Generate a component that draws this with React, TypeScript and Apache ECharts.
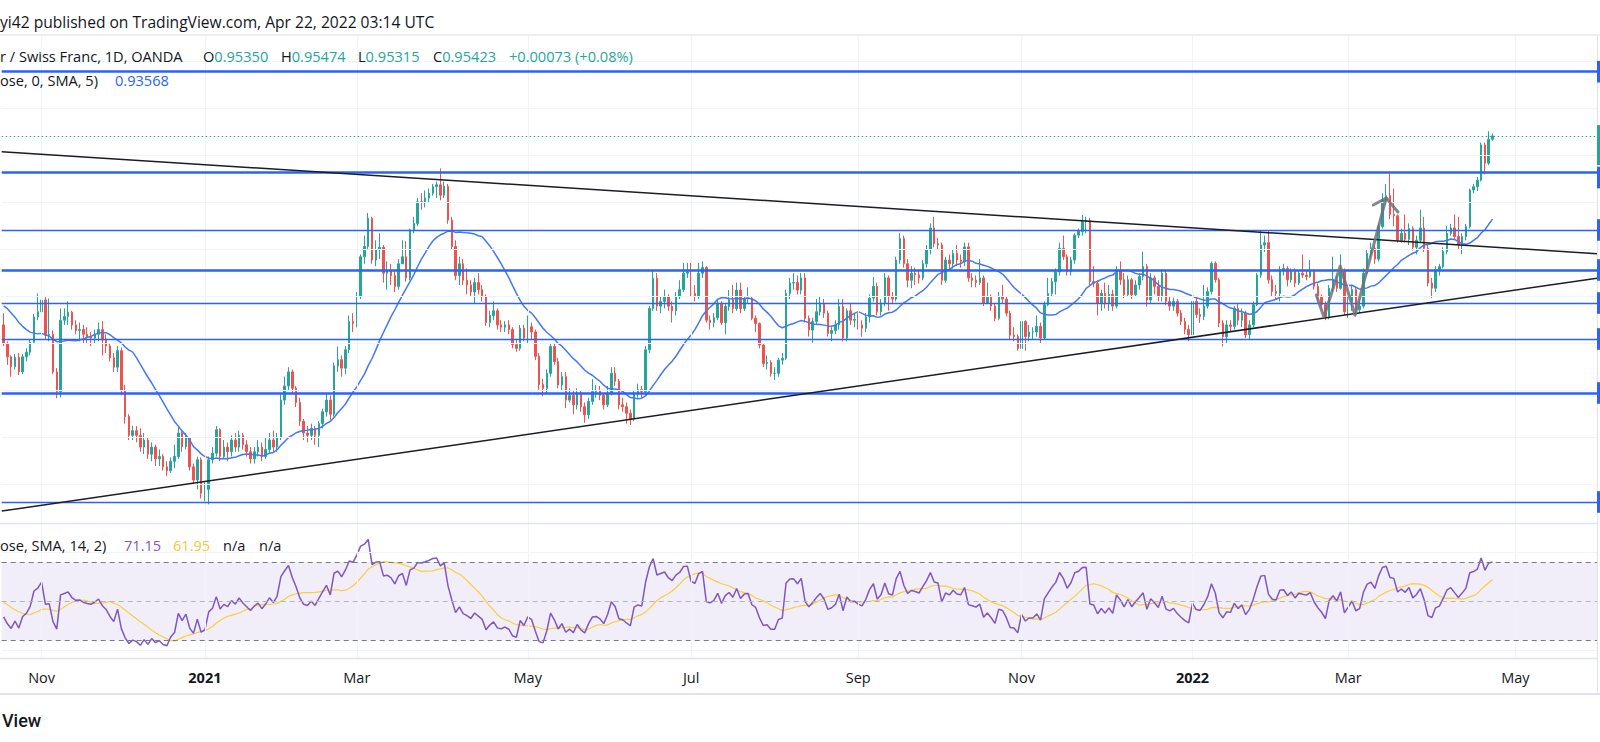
import React, { useEffect, useRef } from "react";
import * as echarts from "echarts";

// ---- DATA (price x 10000) : [close, high, low] per daily bar; open = previous close ----
const firstOpen = 9140;
const oct20 = [[9101,9165,9095],[9072,9105,9055],[9051,9075,9030],[9071,9078,9045],[9040,9080,9033],[9072,9078,9035],[9082,9090,9062],[9103,9110,9075],[9157,9163,9100],[9168,9207,9150]];
const nov20 = [[9193,9207,9160],[9118,9200,9110],[9120,9196,9105],[9040,9128,9035],[8998,9048,8984],[9150,9175,8986],[9158,9175,9140],[9167,9190,9140],[9140,9170,9130],[9128,9150,9120],[9130,9145,9105],[9120,9140,9100],[9115,9135,9100],[9112,9125,9095],[9120,9130,9100],[9130,9145,9105],[9108,9148,9075],[9095,9120,9080],[9070,9100,9062],[9050,9080,9040],[9085,9095,9040]];
const dec20 = [[9000,9092,8990],[8945,9012,8930],[8905,8950,8895],[8915,8925,8895],[8905,8925,8890],[8880,8920,8870],[8895,8910,8865],[8865,8900,8855],[8880,8890,8850],[8855,8885,8840],[8860,8875,8840],[8838,8865,8830],[8830,8850,8818],[8850,8858,8825],[8860,8885,8835],[8910,8925,8855],[8881,8915,8870],[8900,8910,8875],[8838,8890,8830],[8810,8845,8800],[8853,8860,8790],[8782,8858,8771]];
const jan21 = [[8790,8805,8765],[8853,8860,8758],[8867,8880,8845],[8917,8925,8860],[8860,8920,8850],[8880,8895,8855],[8870,8890,8850],[8895,8905,8860],[8880,8910,8870],[8905,8915,8870],[8885,8910,8875],[8870,8895,8860],[8855,8880,8845],[8870,8880,8845],[8880,8895,8860],[8860,8890,8850],[8875,8900,8855],[8895,8910,8865],[8880,8915,8870],[8900,8910,8870]];
const feb21 = [[8980,8992,8895],[9010,9030,8970],[9040,9050,9000],[9005,9045,8995],[8975,9010,8965],[8935,8985,8925],[8910,8940,8895],[8905,8925,8890],[8920,8930,8895],[8905,8925,8885],[8930,8935,8880],[8955,8962,8920],[8980,8995,8945],[8950,8990,8938],[9053,9060,8945],[9066,9094,9040],[9048,9075,9030],[9087,9095,9035],[9147,9160,9080],[9143,9165,9125]];
const mar21 = [[9200,9210,9135],[9285,9290,9195],[9307,9330,9270],[9367,9378,9300],[9278,9370,9270],[9300,9320,9265],[9305,9335,9280],[9250,9310,9230],[9255,9275,9215],[9245,9270,9225],[9222,9255,9210],[9270,9280,9215],[9285,9320,9270],[9240,9318,9232],[9342,9345,9235],[9356,9370,9335],[9402,9410,9350],[9400,9420,9385],[9410,9426,9390],[9420,9430,9400],[9434,9440,9415],[9438,9445,9410],[9416,9473,9405]];
const apr21 = [[9435,9445,9410],[9363,9440,9355],[9307,9370,9300],[9245,9320,9235],[9270,9285,9225],[9235,9280,9225],[9225,9260,9205],[9210,9235,9200],[9230,9240,9185],[9215,9250,9205],[9200,9225,9190],[9145,9205,9138],[9160,9170,9135],[9170,9190,9150],[9140,9175,9130],[9135,9150,9125],[9140,9148,9125],[9130,9150,9120],[9098,9135,9090],[9090,9110,9083],[9133,9140,9085],[9112,9140,9105]];
const may21 = [[9136,9160,9100],[9125,9145,9110],[9073,9130,9065],[9013,9080,9002],[9005,9025,8988],[9037,9045,8995],[9094,9100,9030],[9062,9100,9055],[9012,9070,9005],[9030,9040,9000],[8980,9040,8963],[8990,9005,8975],[8970,9000,8950],[8995,9005,8960],[8966,9000,8955],[8949,8975,8932],[8977,8985,8940],[8998,9025,8970],[9000,9012,8985],[8990,9010,8980],[8970,8995,8960]];
const jun21 = [[8995,9010,8965],[9037,9050,8990],[9020,9050,9010],[8970,9025,8960],[8966,8985,8955],[8952,8975,8930],[8940,8960,8927],[8995,9000,8935],[9002,9015,8985],[8998,9010,8985],[9087,9095,8990],[9175,9180,9080],[9239,9255,9170],[9180,9250,9170],[9190,9200,9165],[9200,9215,9175],[9180,9205,9170],[9170,9190,9145],[9200,9210,9160],[9215,9235,9195],[9250,9272,9210],[9253,9272,9240]];
const jul21 = [[9207,9272,9200],[9200,9225,9190],[9250,9272,9195],[9262,9275,9240],[9150,9265,9145],[9145,9160,9130],[9155,9165,9135],[9186,9195,9150],[9145,9190,9140],[9179,9185,9120],[9193,9214,9170],[9175,9225,9165],[9214,9230,9170],[9175,9230,9165],[9195,9200,9170],[9197,9220,9185],[9154,9200,9150],[9143,9160,9125],[9097,9145,9090],[9058,9100,9050],[9060,9075,9045],[9037,9065,9030]];
const aug21 = [[9037,9050,9023],[9065,9070,9030],[9069,9080,9055],[9207,9215,9065],[9229,9240,9195],[9230,9250,9215],[9214,9245,9205],[9240,9250,9205],[9154,9250,9145],[9129,9160,9115],[9147,9155,9102],[9168,9195,9140],[9186,9200,9160],[9165,9195,9155],[9122,9170,9115],[9128,9135,9105],[9140,9150,9120],[9179,9195,9130],[9112,9195,9105],[9170,9175,9105],[9150,9185,9140],[9152,9165,9135]];
const sep21 = [[9140,9165,9130],[9133,9150,9115],[9157,9165,9125],[9197,9205,9145],[9222,9242,9190],[9168,9230,9160],[9186,9195,9160],[9240,9250,9180],[9200,9245,9170],[9195,9210,9185],[9278,9285,9190],[9324,9335,9270],[9270,9330,9262],[9235,9280,9220],[9250,9265,9218],[9246,9262,9225],[9240,9255,9228],[9270,9278,9235],[9300,9310,9262],[9346,9356,9290],[9313,9370,9305],[9310,9325,9300]];
const oct21 = [[9235,9315,9225],[9278,9285,9230],[9270,9290,9255],[9292,9300,9260],[9278,9310,9265],[9275,9290,9262],[9306,9315,9265],[9240,9315,9232],[9235,9250,9220],[9230,9245,9220],[9240,9280,9225],[9186,9245,9180],[9200,9230,9185],[9180,9205,9170],[9154,9185,9148],[9200,9210,9150],[9195,9225,9185],[9165,9200,9158],[9118,9170,9110],[9115,9135,9105],[9090,9120,9085]];
const nov21 = [[9147,9160,9095],[9115,9150,9085],[9125,9140,9105],[9125,9135,9110],[9137,9160,9115],[9112,9145,9100],[9183,9190,9110],[9207,9240,9180],[9232,9240,9200],[9253,9260,9205],[9303,9315,9245],[9285,9330,9278],[9253,9290,9245],[9278,9285,9245],[9331,9335,9270],[9339,9345,9325],[9360,9374,9330],[9362,9370,9335],[9232,9368,9225],[9228,9265,9220],[9186,9235,9160],[9207,9215,9170]];
const dec21 = [[9185,9230,9175],[9205,9225,9170],[9180,9215,9170],[9257,9265,9175],[9236,9275,9225],[9204,9250,9197],[9236,9245,9200],[9204,9240,9195],[9225,9235,9200],[9243,9250,9215],[9264,9296,9235],[9193,9270,9179],[9240,9250,9185],[9222,9245,9205],[9200,9235,9190],[9250,9258,9190],[9190,9255,9182],[9180,9200,9170],[9190,9198,9170],[9165,9195,9158],[9147,9172,9140],[9130,9155,9120],[9119,9140,9105]];
const jan22 = [[9190,9195,9115],[9162,9200,9155],[9158,9175,9144],[9180,9225,9150],[9211,9220,9175],[9271,9275,9205],[9236,9275,9230],[9144,9240,9135],[9115,9150,9094],[9140,9150,9100],[9137,9150,9125],[9175,9180,9130],[9150,9185,9140],[9165,9175,9135],[9119,9170,9112],[9140,9150,9110],[9183,9190,9135],[9246,9250,9180],[9310,9342,9240],[9315,9330,9295],[9236,9340,9228]];
const feb22 = [[9211,9245,9200],[9207,9225,9195],[9257,9265,9190],[9260,9270,9245],[9236,9265,9222],[9253,9260,9230],[9229,9260,9220],[9250,9255,9225],[9246,9290,9240],[9243,9255,9235],[9253,9278,9240],[9222,9258,9215],[9200,9228,9190],[9183,9205,9175],[9158,9190,9150],[9218,9225,9152],[9236,9285,9210],[9218,9245,9210],[9253,9290,9215],[9168,9260,9160]];
const mar22 = [[9190,9200,9155],[9215,9225,9170],[9172,9222,9158],[9180,9195,9165],[9250,9260,9175],[9292,9300,9245],[9303,9315,9285],[9280,9310,9270],[9349,9355,9275],[9406,9420,9345],[9415,9440,9395],[9375,9462,9365],[9372,9430,9350],[9320,9375,9315],[9335,9345,9315],[9322,9375,9315],[9345,9356,9310],[9305,9350,9298],[9320,9330,9290],[9346,9385,9315],[9303,9370,9295],[9229,9310,9222],[9218,9240,9197]];
const apr22 = [[9257,9265,9210],[9264,9270,9245],[9296,9305,9260],[9335,9350,9290],[9346,9355,9330],[9328,9375,9320],[9310,9370,9300],[9328,9335,9290],[9349,9355,9320],[9427,9430,9345],[9434,9440,9420],[9448,9455,9425],[9523,9528,9445],[9484,9528,9460],[9535,9552,9480],[9542,9547,9532]];
// closes before the visible range (Sep 7 - Oct 16 2020), used only to warm up the indicators
const preCloses = [9130,9180,9150,9130,9095,9070,9070,9050,9090,9100,9170,9190,9230,9250,9265,9240,9220,9210,9200,9200,9170,9180,9170,9170,9110,9140,9140,9120,9160,9140];

const startDate = "2020-10-19";
const closedDays = ["2020-12-25", "2021-01-01"];
const futureBars = 27;
const tickDates = ["2020-11-02","2021-01-04","2021-03-01","2021-05-03","2021-07-01","2021-09-01","2021-11-01","2022-01-03","2022-03-01","2022-05-02"];
const tickLabels = ["Nov","2021","Mar","May","Jul","Sep","Nov","2022","Mar","May"];
const yearLabels = ["2021","2022"];

const levelsThick = [0.96787, 0.94653, 0.92568, 0.89951];
const levelsThin = [0.93419, 0.91866, 0.911, 0.87632];
const lastPrice = 0.95423;
const priceGrid = [0.88, 0.89, 0.9, 0.91, 0.92, 0.93, 0.94, 0.95, 0.96, 0.97];
const rsiGrid = [25, 75];
const rsiBands = [30, 50, 70];
// drawings: [bar index, price]
const trendDown = [[-0.5, 0.95085], [419.5, 0.92913]];
const trendUp = [[-0.5, 0.87438], [419.5, 0.92394]];
const patternPath = [[345.6, 0.92036], [347.6, 0.91568], [351.9, 0.92653], [355.8, 0.9161], [364.0, 0.941]];
const arrowHead = [[360.6, 0.93951], [364.0, 0.941], [367.1, 0.93802]];

const smaLength = 20;
const rsiLength = 14;
const rsiMaLength = 14;

const legendTitle = "yi42 published on TradingView.com, Apr 22, 2022 03:14 UTC";
const legendSymbol = "r / Swiss Franc, 1D, OANDA";
const legendOHLC = [["O", "0.95350"], ["H", "0.95474"], ["L", "0.95315"], ["C", "0.95423"]];
const legendChange = "+0.00073 (+0.08%)";
const legendMA = ["ose, 0, SMA, 5)", "0.93568"];
const legendRSI = ["ose, SMA, 14, 2)", "71.15", "61.95", "n/a", "n/a"];

// ---- helpers ----
function buildDates(n: number): string[] {
  const out: string[] = [];
  const [y, m, d] = startDate.split("-").map(Number);
  const dt = new Date(Date.UTC(y, m - 1, d));
  while (out.length < n) {
    const wd = dt.getUTCDay();
    const s = dt.toISOString().slice(0, 10);
    if (wd !== 0 && wd !== 6 && !closedDays.includes(s)) out.push(s);
    dt.setUTCDate(dt.getUTCDate() + 1);
  }
  return out;
}

function sma(values: (number | null)[], len: number): (number | null)[] {
  return values.map((_, i) => {
    if (i < len - 1) return null;
    let s = 0;
    for (let k = i - len + 1; k <= i; k++) {
      const v = values[k];
      if (v == null) return null;
      s += v;
    }
    return s / len;
  });
}

function rsi(cl: number[], len: number): (number | null)[] {
  const out: (number | null)[] = new Array(cl.length).fill(null);
  let ag = 0, al = 0;
  for (let i = 1; i < cl.length; i++) {
    const ch = cl[i] - cl[i - 1];
    const g = Math.max(ch, 0), l = Math.max(-ch, 0);
    if (i <= len) {
      ag += g; al += l;
      if (i === len) {
        ag /= len; al /= len;
        out[i] = al === 0 ? 100 : 100 - 100 / (1 + ag / al);
      }
    } else {
      ag = (ag * (len - 1) + g) / len;
      al = (al * (len - 1) + l) / len;
      out[i] = al === 0 ? 100 : 100 - 100 / (1 + ag / al);
    }
  }
  return out;
}

const FONT = "'Open Sans', Roboto, sans-serif";
const DARK = "#131722";
const UP = "#26a69a";
const DOWN = "#ef5350";
const BLUE = "#2962ff";

export default function App() {
  const ref = useRef<HTMLDivElement>(null);
  useEffect(() => {
    if (!ref.current) return;
    const chart = echarts.init(ref.current, null, { renderer: "svg" });

    const bars = [oct20, nov20, dec20, jan21, feb21, mar21, apr21, may21, jun21, jul21, aug21, sep21, oct21, nov21, dec21, jan22, feb22, mar22, apr22].flat();
    const N = bars.length + futureBars;
    const dates = buildDates(N);
    let prev = firstOpen;
    const candles = bars.map(([c, h, l]) => {
      const o = prev;
      prev = c;
      return [o / 1e4, c / 1e4, Math.min(l, o, c) / 1e4, Math.max(h, o, c) / 1e4];
    });
    const allCloses = [...preCloses, ...bars.map((b) => b[0])];
    const off = preCloses.length;
    const smaAll = sma(allCloses, smaLength);
    const smaLine = bars.map((_, j) => {
      const v = smaAll[j + off];
      return v == null ? null : +(v / 1e4).toFixed(5);
    });
    const rsiAll = rsi(allCloses, rsiLength);
    const rsiMaAll = sma(rsiAll, rsiMaLength);
    const rsiLine = bars.map((_, j) => rsiAll[j + off]);
    const rsiMaLine = bars.map((_, j) => rsiMaAll[j + off]);

    const vGrid = tickDates.filter((d) => dates.includes(d)).map((d) => ({ xAxis: d }));
    const noLabel = { show: false };

    const option: any = {
      animation: false,
      backgroundColor: "#ffffff",
      grid: [
        { left: 1.7, right: 3, top: 35, height: 488 },
        { left: 1.7, right: 3, top: 523, height: 135.3 },
      ],
      xAxis: [
        { type: "category", gridIndex: 0, data: dates, boundaryGap: true, axisLine: { show: false }, axisTick: { show: false }, axisLabel: { show: false }, splitLine: { show: false } },
        {
          type: "category", gridIndex: 1, data: dates, boundaryGap: true,
          axisLine: { show: false }, axisTick: { show: false }, splitLine: { show: false },
          axisLabel: {
            show: true,
            interval: (_i: number, v: string) => tickDates.includes(v),
            formatter: (v: string) => {
              const k = tickDates.indexOf(v);
              if (k < 0) return "";
              const t = tickLabels[k];
              return yearLabels.includes(t) ? `{b|${t}}` : t;
            },
            margin: 12, fontSize: 14.5, color: DARK, fontFamily: FONT,
            rich: { b: { fontWeight: "bold", fontSize: 14.5, color: DARK, fontFamily: FONT } },
          },
        },
        { type: "value", gridIndex: 0, min: -0.5, max: N - 0.5, show: false },
      ],
      yAxis: [
        { type: "value", gridIndex: 0, min: 0.87185, max: 0.97568, show: false, splitLine: { show: false } },
        { type: "value", gridIndex: 1, min: 20.77, max: 90.15, show: false, splitLine: { show: false } },
      ],
      series: [
        {
          type: "line", xAxisIndex: 0, yAxisIndex: 0, data: [], z: 0, silent: true,
          markLine: {
            silent: true, symbol: ["none", "none"], label: noLabel, precision: 5,
            lineStyle: { color: "#f0f3fa", width: 1, type: "solid" },
            data: [...priceGrid.map((v) => ({ yAxis: v })), ...vGrid],
          },
        },
        {
          type: "candlestick", xAxisIndex: 0, yAxisIndex: 0, data: candles, barWidth: 2, z: 2, silent: true,
          itemStyle: { color: UP, color0: DOWN, borderColor: UP, borderColor0: DOWN, borderWidth: 1 },
        },
        {
          type: "line", xAxisIndex: 0, yAxisIndex: 0, data: smaLine, showSymbol: false, z: 3, silent: true,
          lineStyle: { color: "#4478f5", width: 1.5 },
        },
        {
          type: "line", xAxisIndex: 0, yAxisIndex: 0, data: [], z: 4, silent: true,
          markLine: {
            silent: true, symbol: ["none", "none"], label: noLabel, precision: 5,
            lineStyle: { color: BLUE, type: "solid" },
            data: [
              ...levelsThick.map((v) => ({ yAxis: v, lineStyle: { width: 2.6, color: BLUE, type: "solid" } })),
              ...levelsThin.map((v) => ({ yAxis: v, lineStyle: { width: 1.3, color: BLUE, type: "solid" } })),
              { yAxis: lastPrice, lineStyle: { color: UP, width: 1, type: [1.5, 2.5] } },
            ],
          },
        },
        {
          type: "line", xAxisIndex: 2, yAxisIndex: 0, data: trendDown, showSymbol: false, z: 5, silent: true,
          lineStyle: { color: "#1b1d24", width: 1.5 },
        },
        {
          type: "line", xAxisIndex: 2, yAxisIndex: 0, data: trendUp, showSymbol: false, z: 5, silent: true,
          lineStyle: { color: "#1b1d24", width: 1.5 },
        },
        {
          type: "line", xAxisIndex: 2, yAxisIndex: 0, data: patternPath, showSymbol: false, z: 6, silent: true,
          lineStyle: { color: "rgba(110,113,124,0.85)", width: 3, cap: "round", join: "round" },
        },
        {
          type: "line", xAxisIndex: 2, yAxisIndex: 0, data: arrowHead, showSymbol: false, z: 6, silent: true,
          lineStyle: { color: "rgba(110,113,124,0.85)", width: 3, cap: "round", join: "round" },
        },
        {
          type: "line", xAxisIndex: 1, yAxisIndex: 1, data: [], z: 0, silent: true,
          markArea: { silent: true, itemStyle: { color: "rgba(126,87,194,0.1)" }, data: [[{ yAxis: rsiBands[0] }, { yAxis: rsiBands[2] }]] },
          markLine: {
            silent: true, symbol: ["none", "none"], label: noLabel, precision: 3,
            data: [
              ...rsiGrid.map((v) => ({ yAxis: v, lineStyle: { color: "#f0f3fa", width: 1, type: "solid" } })),
              ...vGrid.map((g) => ({ ...g, lineStyle: { color: "#f0f3fa", width: 1, type: "solid" } })),
              { yAxis: rsiBands[2], lineStyle: { color: "#787b86", width: 1, type: [5, 4] } },
              { yAxis: rsiBands[1], lineStyle: { color: "#b2b5be", width: 1, type: [5, 4] } },
              { yAxis: rsiBands[0], lineStyle: { color: "#787b86", width: 1, type: [5, 4] } },
            ],
          },
        },
        {
          type: "line", xAxisIndex: 1, yAxisIndex: 1, data: rsiMaLine, showSymbol: false, z: 3, silent: true,
          lineStyle: { color: "#f7d03c", width: 1.2 },
        },
        {
          type: "line", xAxisIndex: 1, yAxisIndex: 1, data: rsiLine, showSymbol: false, z: 4, silent: true,
          lineStyle: { color: "#7e57c2", width: 1.5 },
        },
      ],
    };
    chart.setOption(option);

    const txt = (x: number, y: number, text: string, fill: string, fontSize = 14.6, fontWeight: any = "normal", family = FONT) => ({
      type: "text", x, y, silent: true, z: 100,
      style: { text, fill, fontSize, fontFamily: family, fontWeight, verticalAlign: "middle", align: "left" },
    });
    const hline = (y: number, x1 = 0, x2 = 1600, stroke = "#e0e3eb", lw = 1.5) => ({
      type: "line", silent: true, z: 50, shape: { x1, y1: y, x2, y2: y }, style: { stroke, lineWidth: lw },
    });
    const py = (v: number) => chart.convertToPixel({ yAxisIndex: 0 } as any, v) as unknown as number;

    const graphics: any[] = [
      txt(0, 21.7, legendTitle, DARK, 15.6),
      hline(35, 0, 1600, "#eceef2", 2),
      txt(0, 56, legendSymbol, DARK),
    ];
    const ohlcX = [203, 281, 358, 433];
    legendOHLC.forEach(([k, v], i) => {
      graphics.push({
        type: "text", x: ohlcX[i], y: 56, silent: true, z: 100,
        style: {
          text: `{k|${k}}{v|${v}}`, verticalAlign: "middle", align: "left",
          rich: { k: { fill: DARK, fontSize: 14.6, fontFamily: FONT }, v: { fill: UP, fontSize: 14.6, fontFamily: FONT } },
        },
      });
    });
    graphics.push(txt(509, 56, legendChange, UP));
    graphics.push(txt(0, 80, legendMA[0], DARK));
    graphics.push(txt(115, 80, legendMA[1], BLUE));
    graphics.push(txt(0, 545, legendRSI[0], DARK));
    graphics.push(txt(124, 545, legendRSI[1], "#7e57c2"));
    graphics.push(txt(173, 545, legendRSI[2], "#f2c93a"));
    graphics.push(txt(223, 545, legendRSI[3], DARK));
    graphics.push(txt(259, 545, legendRSI[4], DARK));
    graphics.push(hline(523.5, 0, 1597, "#e0e3eb", 1.5));
    graphics.push(hline(658.5, 0, 1597, "#e0e3eb", 1.5));
    graphics.push(hline(694, 0, 1600, "#e0e3eb", 2));
    graphics.push({ type: "line", silent: true, z: 50, shape: { x1: 1597.5, y1: 35, x2: 1597.5, y2: 694 }, style: { stroke: "#e0e3eb", lineWidth: 1 } });
    graphics.push(txt(2, 720, "View", DARK, 18, 500, "Roboto, sans-serif"));

    // price-scale labels peeking at the right edge
    const marks: any[] = [];
    [...levelsThick, ...levelsThin].forEach((v) => {
      const p = py(v);
      const isSecond = v === levelsThick[1];
      const y0 = isSecond ? p - 5.3 : p - 10.8;
      marks.push({ type: "rect", silent: true, z: 60, shape: { x: 1597, y: y0, width: 3, height: 21.6 }, style: { fill: BLUE } });
    });
    const pl = py(lastPrice);
    marks.push({ type: "rect", silent: true, z: 61, shape: { x: 1597, y: pl - 10.7, width: 3, height: 40 }, style: { fill: UP } });

    chart.setOption({ graphic: [...graphics, ...marks] });
    return () => chart.dispose();
  }, []);
  return <div ref={ref} style={{ position: "fixed", left: 0, top: 0, width: 1600, height: 742, background: "#ffffff" }} />;
}
